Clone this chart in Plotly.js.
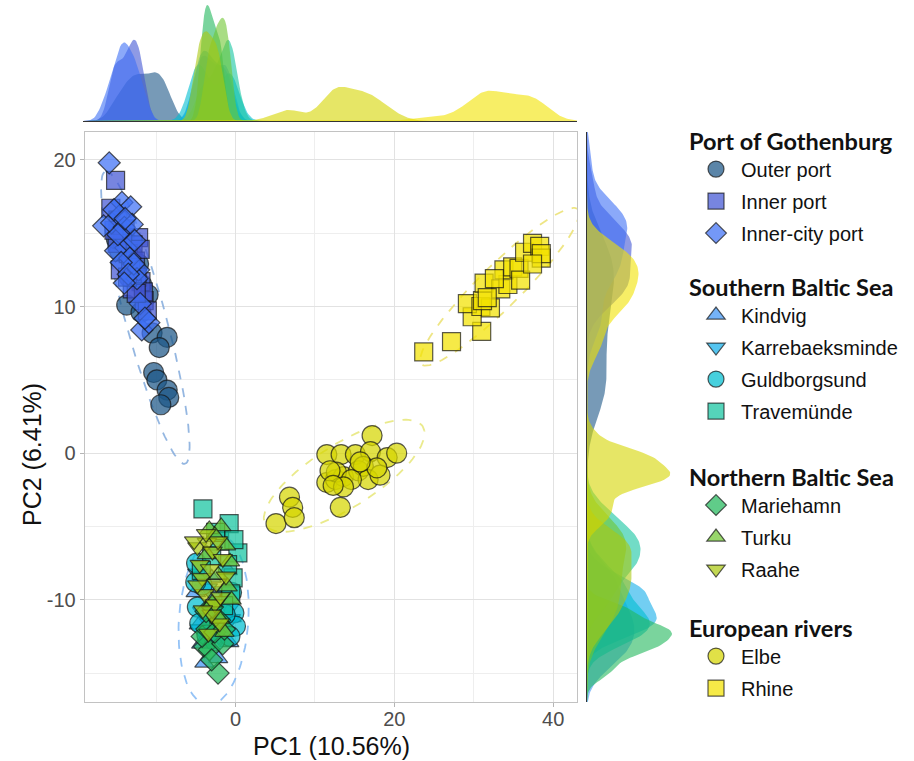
<!DOCTYPE html>
<html>
<head>
<meta charset="utf-8">
<script src="https://cdn.plot.ly/plotly-3.0.1.min.js"></script>
<style>html,body{margin:0;padding:0;background:#fff;}#chart{width:914px;height:761px;}</style>
</head>
<body>
<div id="chart"></div>
<script>
// ---------------- DATA ----------------
const regionTitles = ["Port of Gothenburg", "Southern Baltic Sea", "Northern Baltic Sea", "European rivers"];
const siteNames = ["Outer port", "Inner port", "Inner-city port",
  "Kindvig", "Karrebaeksminde", "Guldborgsund", "Travemünde",
  "Mariehamn", "Turku", "Raahe", "Elbe", "Rhine"];
const siteRegion = [0,0,0,1,1,1,1,2,2,2,3,3];

const outerX = [-13.7,-11.9,-10.5,-8.6,-9.6,-10.3,-9.9,-8.6,-8.4,-9.4,-12.5,-11.8,-13.0,-11.0,-14.6,-15.0,-13.4,-12.2];
const outerY = [10.1,9.6,8.2,7.9,7.2,5.5,5.0,4.3,3.8,3.3,12.5,11.5,13.5,10.8,13.8,14.6,12.0,12.9];

const innerX = [-15.1,-15.7,-14.8,-13.9,-12.2,-12.9,-14.5,-13.5,-12.6,-11.9,-12.4,-11.5,-11.1,-13.2,-14.2,-12.0,-13.0,-11.6,-14.9,-12.5,-15.3,-13.6];
const innerY = [18.6,16.7,15.9,15.3,14.7,14.2,12.5,13.6,13.1,11.7,12.0,10.4,9.7,12.8,14.6,13.9,11.2,11.0,14.3,10.9,15.2,12.0];

const cityX = [-15.9,-14.3,-13.2,-16.6,-15.6,-14.6,-13.8,-15.1,-12.2,-12.4,-11.8,-10.9,-14.0,-13.0,-14.8,-13.3,-12.8,-14.4,-13.5,-12.0,-11.4,-15.3,-13.9,-12.7,-14.0];
const cityY = [19.8,17.1,16.8,15.5,15.7,16.2,14.0,13.8,12.5,11.9,8.4,8.9,15.4,15.6,14.9,13.3,12.9,13.0,12.2,10.2,9.2,16.6,16.0,14.5,11.6];

const kindX = [-5.0,-4.3,-3.0,-1.4,-0.8,-3.6,-2.2,-4.6,-1.0,-2.7,-0.5,-3.9];
const kindY = [-9.5,-13.0,-8.5,-10.0,-12.9,-11.0,-14.0,-11.7,-8.0,-12.3,-11.2,-14.3];

const karrX = [-4.8,-3.5,-4.2,-1.5,-0.8,-2.8,-4.5,-2.1,-3.3,-0.6];
const karrY = [-8.2,-9.2,-10.8,-9.4,-10.6,-9.7,-12.0,-12.5,-11.6,-11.3];

const guldX = [-4.9,-4.8,-0.2,0.0,-4.2,-0.7,-4.5,-1.3,-3.6,-5.0,-0.5,-2.6];
const guldY = [-7.5,-10.5,-10.9,-11.8,-9.0,-12.5,-11.6,-11.0,-12.4,-8.8,-9.5,-12.8];

const travX = [-4.1,-0.8,0.3,-0.3,-1.0,-2.0,-3.0,-0.6,-1.5,-4.3,-2.5,-0.2];
const travY = [-3.8,-4.8,-6.8,-8.5,-7.6,-6.0,-7.0,-9.6,-10.4,-8.0,-5.4,-5.9];

const mariX = [-3.9,-3.3,-2.2,-1.6,-4.2,-3.6,-2.6,-2.0,-3.0,-3.7,-1.4,-2.9];
const mariY = [-13.2,-13.4,-15.0,-13.0,-12.5,-12.0,-12.2,-11.4,-14.1,-10.8,-12.0,-10.5];

const turkX = [-1.8,-3.3,-2.6,-1.2,-3.6,-0.7,-2.2,-1.0,-2.9,-0.5,-2.0,-1.4];
const turkY = [-5.0,-5.2,-5.6,-6.3,-6.9,-7.4,-8.3,-9.1,-10.2,-10.0,-11.3,-12.2];

const raahX = [-4.8,-4.2,-2.4,-2.0,-3.6,-5.2,-2.9,-1.6,-3.9,-2.6,-4.5,-3.2,-1.9,-3.0,-4.8,-3.4,-2.2,-4.1,-1.2,-3.7];
const raahY = [-6.4,-8.5,-8.9,-11.6,-6.1,-6.0,-6.7,-7.2,-9.6,-10.3,-7.6,-7.9,-9.8,-11.0,-9.0,-12.3,-6.0,-10.7,-8.4,-5.5];

const elbeX = [5.1,6.8,7.2,7.4,13.2,17.2,11.5,13.3,15.1,17.0,19.1,20.3,11.5,12.6,13.6,12.7,11.9,15.5,16.1,16.7,18.2,14.6,13.6,12.3,17.8,15.7];
const elbeY = [-4.8,-3.0,-3.7,-4.4,-3.7,1.2,-0.1,-0.1,-0.1,0.1,-0.3,0.0,-2.0,-1.8,-1.6,-1.3,-1.2,-1.2,-0.9,-1.8,-1.5,-1.8,-2.3,-2.2,-1.0,-0.6];

const rhinX = [23.7,27.2,31.0,29.8,29.2,30.9,32.1,31.1,31.3,33.4,34.3,33.8,34.9,35.7,35.9,36.4,37.4,38.3,38.5,38.5,37.4,32.6,31.7];
const rhinY = [6.9,7.6,8.3,9.3,10.2,10.0,9.9,10.4,11.6,11.2,11.5,12.5,12.7,12.6,11.8,13.7,14.3,14.1,13.3,13.6,12.9,11.9,10.6];

const xTicks = [0, 20, 40];
const yTicks = [-10, 0, 10, 20];

// ---------------- STYLE ----------------
const siteX = [outerX, innerX, cityX, kindX, karrX, guldX, travX, mariX, turkX, raahX, elbeX, rhinX];
const siteY = [outerY, innerY, cityY, kindY, karrY, guldY, travY, mariY, turkY, raahY, elbeY, rhinY];
const siteColor = ["28,86,135","66,86,212","62,112,245","64,150,245","20,174,234","0,190,208","20,196,160","34,184,92","112,198,50","170,200,16","214,214,0","242,226,0"];
const siteSymbol = ["circle","square","diamond","triangle-up","triangle-down","circle","square","diamond","triangle-up","triangle-down","circle","square"];
const siteSize = [20,18,17,17,17,20,18,17,17,17,20,18];
const ellipseFor = {0:"rgba(130,170,220,0.85)", 3:"rgba(130,185,245,0.85)", 10:"rgba(230,230,120,0.85)", 11:"rgba(235,225,110,0.85)"};

// ---------------- HELPERS ----------------
function mean(a){return a.reduce((s,v)=>s+v,0)/a.length;}
function sd(a){const m=mean(a);return Math.sqrt(a.reduce((s,v)=>s+(v-m)*(v-m),0)/(a.length-1));}
function quant(a,p){const s=[...a].sort((u,v)=>u-v);const h=(s.length-1)*p;const lo=Math.floor(h);return s[lo]+(h-lo)*((s[lo+1]!==undefined?s[lo+1]:s[lo])-s[lo]);}
function kde(vals, grid){
  const n=vals.length;
  const iqr=quant(vals,0.75)-quant(vals,0.25);
  let lo=Math.min(sd(vals), iqr/1.34); if(!(lo>0)) lo=sd(vals);
  const bw=0.9*lo*Math.pow(n,-0.2);
  return grid.map(g=>vals.reduce((s,v)=>s+Math.exp(-0.5*Math.pow((g-v)/bw,2)),0)/(n*bw*Math.sqrt(2*Math.PI)));
}
function ellipse(xs, ys){
  const n=xs.length, mx=mean(xs), my=mean(ys);
  let sxx=0,syy=0,sxy=0;
  for(let i=0;i<n;i++){const dx=xs[i]-mx, dy=ys[i]-my; sxx+=dx*dx; syy+=dy*dy; sxy+=dx*dy;}
  sxx/=(n-1); syy/=(n-1); sxy/=(n-1);
  const d=n-1, q=d/2*(Math.pow(0.05,-2/d)-1), r=Math.sqrt(2*q);
  const tr=sxx+syy, det=sxx*syy-sxy*sxy, disc=Math.sqrt(tr*tr/4-det);
  const l1=tr/2+disc, l2=tr/2-disc;
  let ex=sxy, ey=l1-sxx; if(Math.abs(sxy)<1e-12){ex=1;ey=0;}
  const norm=Math.sqrt(ex*ex+ey*ey); ex/=norm; ey/=norm;
  const ex2=-ey, ey2=ex;
  const X=[],Y=[];
  for(let k=0;k<=120;k++){const t=2*Math.PI*k/120;
    const a=r*Math.sqrt(l1)*Math.cos(t), b=r*Math.sqrt(Math.max(l2,0))*Math.sin(t);
    X.push(mx+a*ex+b*ex2); Y.push(my+a*ey+b*ey2);}
  return {x:X,y:Y};
}

// ---------------- GEOMETRY ----------------
const W=914, H=761;
const px=(a)=>a/W, py=(b)=>1-b/H;
const xRange=[-18.95, 43.0], yRange=[-16.97, 21.9];
const mainXDom=[px(85), px(577)], mainYDom=[py(702), py(132)];

const traces=[];
Object.keys(ellipseFor).forEach(k=>{
  const e=ellipse(siteX[k], siteY[k]);
  traces.push({type:"scatter", mode:"lines", x:e.x, y:e.y, xaxis:"x", yaxis:"y",
    line:{color:ellipseFor[k], width:1.8, dash:"dash"}, showlegend:false, hoverinfo:"skip", legendgroup:"g"+k});
});
const legendIds=["legend","legend2","legend3","legend4"];
siteNames.forEach((nm,i)=>{
  traces.push({type:"scatter", mode:"markers", name:nm, x:siteX[i], y:siteY[i], xaxis:"x", yaxis:"y",
    legend:legendIds[siteRegion[i]], legendgroup:"g"+i,
    marker:{symbol:siteSymbol[i], size:siteSize[i], color:"rgba("+siteColor[i]+",0.72)",
      line:{color:"rgba(20,20,20,0.7)", width:1.2}}});
});
const gx=[], gy=[];
for(let k=0;k<=400;k++){gx.push(xRange[0]+(xRange[1]-xRange[0])*k/400); gy.push(yRange[0]+(yRange[1]-yRange[0])*k/400);}
let maxTop=0, maxRight=0;
siteNames.forEach((nm,i)=>{
  const dx=kde(siteX[i], gx), dy=kde(siteY[i], gy);
  maxTop=Math.max(maxTop, ...dx); maxRight=Math.max(maxRight, ...dy);
  traces.push({type:"scatter", mode:"lines", x:gx, y:dx, xaxis:"x2", yaxis:"y2", fill:"tozeroy",
    fillcolor:"rgba("+siteColor[i]+",0.6)", line:{width:0, color:"rgba(0,0,0,0)"}, showlegend:false, hoverinfo:"skip", legendgroup:"g"+i});
  traces.push({type:"scatter", mode:"lines", x:dy, y:gy, xaxis:"x3", yaxis:"y3", fill:"tozerox",
    fillcolor:"rgba("+siteColor[i]+",0.6)", line:{width:0, color:"rgba(0,0,0,0)"}, showlegend:false, hoverinfo:"skip", legendgroup:"g"+i});
});

const axFont={family:"Liberation Sans, Arial, sans-serif", size:20, color:"#4d4d4d"};
const titleFont={family:"Liberation Sans, Arial, sans-serif", size:25, color:"#111"};
const legendTitleFont={family:"Lato, Open Sans, sans-serif", size:23.5, color:"#111", weight:"bold"};
const legendItemFont={family:"Liberation Sans, Arial, sans-serif", size:20, color:"#111"};
function mkLegend(yTop){
  return {x:px(687), y:py(yTop), xanchor:"left", yanchor:"top", bgcolor:"rgba(0,0,0,0)", borderwidth:0,
    font:legendItemFont, title:{font:legendTitleFont}, traceorder:"grouped", tracegroupgap:3,
    itemsizing:"trace", itemwidth:40, indentation:4};
}
const lg=[mkLegend(119), mkLegend(265), mkLegend(455), mkLegend(606)];
lg.forEach((l,i)=>{l.title.text=regionTitles[i];});

const layout={
  width:W, height:H, margin:{l:0,r:0,t:0,b:0}, paper_bgcolor:"#fff", plot_bgcolor:"#fff",
  showlegend:true,
  xaxis:{domain:mainXDom, range:xRange, anchor:"y", tickmode:"array", tickvals:xTicks, ticktext:xTicks.map(String),
    showgrid:true, gridcolor:"#e2e2e2", gridwidth:1, zeroline:false, showline:true, mirror:true, linecolor:"#c2c2c2", linewidth:1.3,
    ticks:"outside", ticklen:4, tickcolor:"#b5b5b5", tickfont:axFont, automargin:false, ticklabelstandoff:-5,
    minor:{tickmode:"array", tickvals:[-10,10,30], showgrid:true, gridcolor:"#eeeeee", gridwidth:1, ticks:""}},
  yaxis:{domain:mainYDom, range:yRange, anchor:"x", tickmode:"array", tickvals:yTicks, ticktext:yTicks.map(String),
    showgrid:true, gridcolor:"#e2e2e2", gridwidth:1, zeroline:false, showline:true, mirror:true, linecolor:"#c2c2c2", linewidth:1.3,
    ticks:"outside", ticklen:4, tickcolor:"#b5b5b5", tickfont:axFont, automargin:false,
    minor:{tickmode:"array", tickvals:[-15,-5,5,15], showgrid:true, gridcolor:"#eeeeee", gridwidth:1, ticks:""}},
  xaxis2:{domain:[px(83), px(577)], range:xRange, anchor:"y2", showgrid:false, zeroline:false, showticklabels:false, ticks:"",
    showline:true, linecolor:"#333", linewidth:1.2},
  yaxis2:{domain:[py(121), py(5)], range:[0, maxTop], anchor:"x2", showgrid:false, zeroline:false, showticklabels:false, ticks:"", showline:false},
  xaxis3:{domain:[px(587), px(672)], range:[0, maxRight], anchor:"y3", showgrid:false, zeroline:false, showticklabels:false, ticks:"", showline:false},
  yaxis3:{domain:mainYDom, range:yRange, anchor:"x3", showgrid:false, zeroline:false, showticklabels:false, ticks:"",
    showline:true, linecolor:"#333", linewidth:1.2},
  legend:lg[0], legend2:lg[1], legend3:lg[2], legend4:lg[3],
  annotations:[
    {xref:"paper", yref:"paper", x:px(331), y:py(746), text:"PC1 (10.56%)", showarrow:false, font:titleFont, xanchor:"center", yanchor:"middle"},
    {xref:"paper", yref:"paper", x:px(32), y:py(455), text:"PC2 (6.41%)", textangle:-90, showarrow:false, font:titleFont, xanchor:"center", yanchor:"middle"}]
};
Plotly.newPlot("chart", traces, layout, {displayModeBar:false, staticPlot:true});
</script>
</body>
</html>
